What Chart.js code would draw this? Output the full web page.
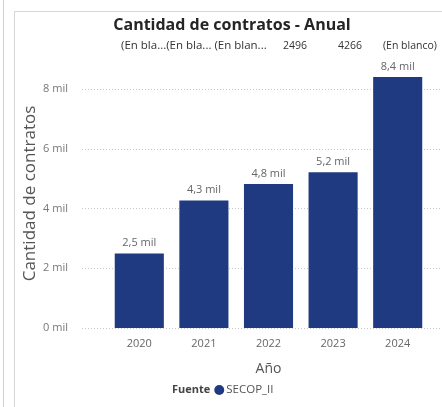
<!DOCTYPE html>
<html>
<head>
<meta charset="utf-8">
<script src="https://cdn.jsdelivr.net/npm/chart.js@4.4.0/dist/chart.umd.min.js"></script>
<style>
  html, body { margin: 0; padding: 0; background: #fff; }
  #wrap { position: relative; width: 442px; height: 407px; overflow: hidden; }
  #edge { position: absolute; left: 3px; top: 0; width: 1px; height: 407px; background: #d2d2d2; }
  #panel { position: absolute; left: 14px; top: 11px; right: -2px; bottom: -2px; border-left: 1.5px solid #d6d6d6; border-top: 1.5px solid #d6d6d6; }
  canvas { position: absolute; left: 0; top: 0; }
</style>
</head>
<body>
<div id="wrap">
  <div id="edge"></div>
  <div id="panel"></div>
  <canvas id="myChart" width="442" height="407"></canvas>
</div>
<script>
var years = ['2020', '2021', '2022', '2023', '2024'];
var contratos = [2496, 4266, 4820, 5210, 8400];
var yTicks = [0, 2000, 4000, 6000, 8000];
var headerLabels = ['(En bla...(En bla... (En blan...', '2496', '4266', '(En blanco)'];
var fuente = 'SECOP_II';

var navy = '#1f3a80';
var fontName = "'Open Sans', 'Noto Sans', sans-serif";

function milLabel(v) {
    return (v / 1000).toFixed(1).replace('.', ',') + ' mil';
}

var extras = {
    id: 'extras',
    beforeDatasetsDraw: function(chart) {
        var ctx = chart.ctx;
        var y = chart.scales.y;
        ctx.save();
        ctx.strokeStyle = '#c8c8c8';
        ctx.lineWidth = 1;
        ctx.setLineDash([1, 2]);
        yTicks.forEach(function(t) {
            var py = Math.round(y.getPixelForValue(t)) + 0.5;
            ctx.beginPath();
            ctx.moveTo(82, py);
            ctx.lineTo(440, py);
            ctx.stroke();
        });
        ctx.restore();
    },
    afterDatasetsDraw: function(chart) {
        var ctx = chart.ctx;
        var meta = chart.getDatasetMeta(0);
        ctx.save();
        // data labels
        ctx.font = '11px ' + fontName;
        ctx.fillStyle = '#666';
        ctx.textAlign = 'center';
        ctx.textBaseline = 'bottom';
        meta.data.forEach(function(bar, i) {
            ctx.fillText(milLabel(contratos[i]), bar.x, bar.y - 5);
        });
        // title
        ctx.font = 'bold 16px ' + fontName;
        ctx.fillStyle = '#252525';
        ctx.textBaseline = 'middle';
        ctx.fillText('Cantidad de contratos - Anual', 232, 25);
        // header row
        ctx.fillStyle = '#333';
        ctx.textAlign = 'left';
        var hx = [121, 283, 338, 383];
        headerLabels.forEach(function(t, i) {
            ctx.font = (i == 0 ? '11.5px ' : '10.5px ') + fontName;
            ctx.fillText(t, hx[i], 46);
        });
        // legend
        var ly = 390;
        ctx.font = 'bold 11px ' + fontName;
        ctx.fillStyle = '#444';
        ctx.fillText('Fuente', 172, ly);
        var lx = 172 + ctx.measureText('Fuente').width + 4;
        ctx.fillStyle = chart.data.datasets[0].backgroundColor;
        ctx.beginPath();
        ctx.arc(lx + 5, ly, 5, 0, Math.PI * 2);
        ctx.fill();
        ctx.font = '11.5px ' + fontName;
        ctx.fillStyle = '#555';
        ctx.fillText(chart.data.datasets[0].label, lx + 12, ly);
        ctx.restore();
    }
};

var ctx = document.getElementById('myChart').getContext('2d');
var myChart = new Chart(ctx, {
    type: 'bar',
    data: {
        labels: years,
        datasets: [{
            label: fuente,
            data: contratos,
            backgroundColor: navy,
            borderWidth: 0,
            categoryPercentage: 0.76,
            barPercentage: 1
        }]
    },
    options: {
        responsive: false,
        animation: false,
        layout: { padding: { left: 20, right: 12, top: 59, bottom: 28 } },
        scales: {
            x: {
                grid: { display: false, drawTicks: false },
                border: { display: false },
                ticks: { color: '#666', font: { family: fontName, size: 11 }, padding: 9 },
                title: { display: true, text: 'Año', color: '#555', font: { family: fontName, size: 14 }, padding: { top: 1, bottom: 2 } }
            },
            y: {
                min: 0,
                max: 9000,
                afterBuildTicks: function(scale) {
                    scale.ticks = yTicks.map(function(v) { return { value: v }; });
                },
                afterFit: function(scale) { scale.width = 87; },
                grid: { display: false, drawTicks: false },
                border: { display: false },
                ticks: {
                    color: '#777',
                    font: { family: fontName, size: 11 },
                    padding: 39,
                    callback: function(v) { return (v / 1000) + ' mil'; }
                },
                title: { display: true, text: 'Cantidad de contratos', color: '#555', font: { family: fontName, size: 17 }, padding: 0 }
            }
        },
        plugins: {
            legend: { display: false },
            tooltip: { enabled: false }
        }
    },
    plugins: [extras]
});
</script>
</body>
</html>
